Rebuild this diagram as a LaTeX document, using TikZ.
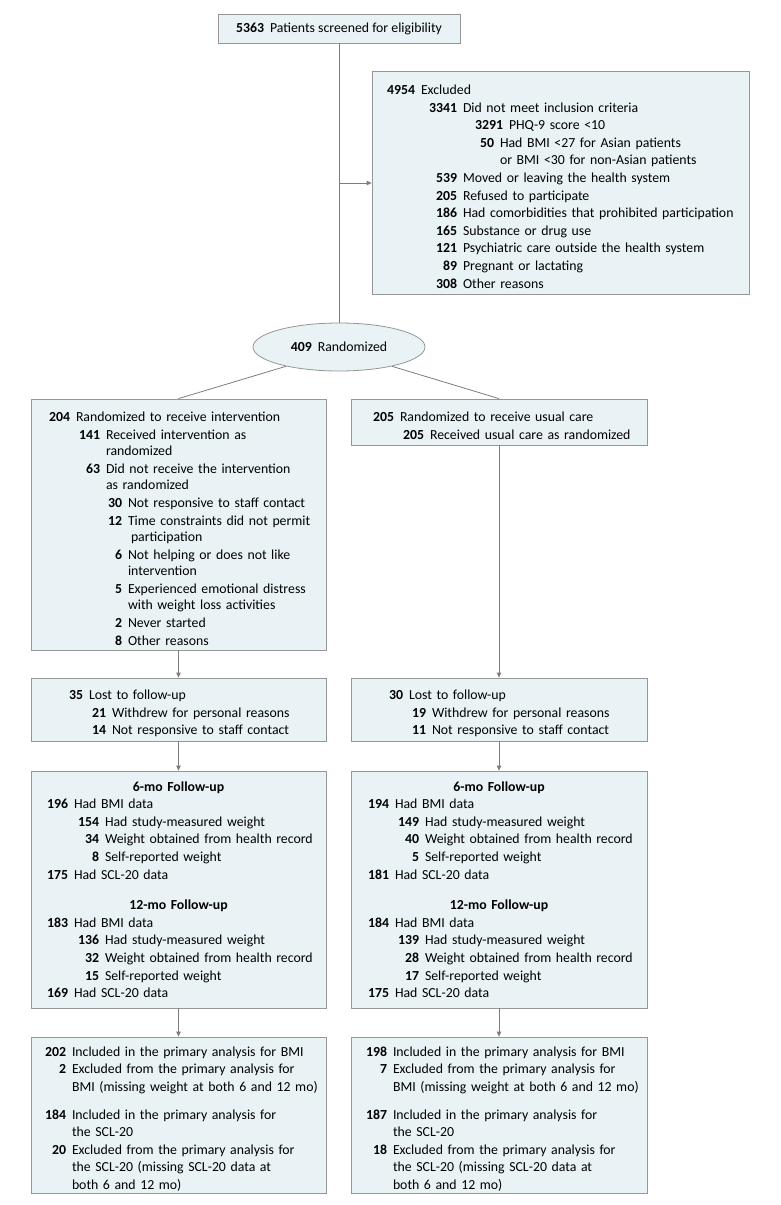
\documentclass[tikz,border=0pt]{standalone}
\usepackage{fontspec}
\setmainfont{Carlito}
\usetikzlibrary{shapes.geometric,arrows.meta}
\definecolor{boxfill}{RGB}{233,242,244}
\definecolor{boxline}{RGB}{150,150,150}
\definecolor{conline}{RGB}{125,125,125}
\setlength{\parskip}{0pt}
% one counted line: text starts at #1, number set flush right before it
\newcommand{\ent}[3]{\par\noindent\hangindent=#1\hangafter=1\hspace*{#1}\llap{\textbf{#2}\hspace{6pt}}#3\par}
\newcommand{\hd}[1]{{\centering\textbf{#1}\par}}
\begin{document}
\begin{tikzpicture}[x=1pt,y=-1pt,
  bx/.style={draw=boxline, fill=boxfill, line width=0.8pt, inner sep=0pt, align=left, font=\fontsize{13.8}{17.6}\selectfont},
  conn/.style={draw=conline, line width=0.8pt},
  arr/.style={conn, -{Triangle[length=5pt,width=4.5pt]}}]
\fill[white] (0,0) rectangle (780,1205);
\useasboundingbox (0,0) rectangle (780,1205);
\node[bx, align=center, minimum width=242pt, minimum height=29pt] (box0) at (339,28.5){\textbf{5363}\hspace{6pt}Patients screened for eligibility};
\node[bx, text width=377pt, minimum height=223pt] (box1) at (560.5,182.5){%
\ent{49pt}{4954}{Excluded}
\ent{91pt}{3341}{Did not meet inclusion criteria}
\ent{137pt}{3291}{PHQ-9 score <10}
\ent{128pt}{50}{Had BMI <27 for Asian patients\newline or BMI <30 for non-Asian patients}
\ent{91pt}{539}{Moved or leaving the health system}
\ent{91pt}{205}{Refused to participate}
\ent{91pt}{186}{Had comorbidities that prohibited participation}
\ent{91pt}{165}{Substance or drug use}
\ent{91pt}{121}{Psychiatric care outside the health system}
\ent{91pt}{89}{Pregnant or lactating}
\ent{91pt}{308}{Other reasons}};
\node[bx, ellipse, align=center, minimum width=172pt, minimum height=48pt] (rnd) at (339,347){\textbf{409}\hspace{6pt}Randomized};
\node[bx, text width=295pt, minimum height=251pt, font=\fontsize{13.8}{16}\selectfont] (box2) at (178.5,524.5){\setlength{\parskip}{2pt}%
\ent{45pt}{204}{Randomized to receive intervention}
\ent{75pt}{141}{Received intervention as\newline randomized}
\ent{75pt}{63}{Did not receive the intervention\newline as randomized}
\ent{97pt}{30}{Not responsive to staff contact}
\ent{97pt}{12}{Time constraints did not permit\newline\hspace*{3pt}participation}
\ent{97pt}{6}{Not helping or does not like\newline intervention}
\ent{97pt}{5}{Experienced emotional distress\newline with weight loss activities}
\ent{97pt}{2}{Never started}
\ent{97pt}{8}{Other reasons}};
\node[bx, text width=296pt, minimum height=46pt] (box3) at (499,422){%
\ent{49pt}{205}{Randomized to receive usual care}
\ent{79pt}{205}{Received usual care as randomized}};
\node[bx, text width=295pt, minimum height=63pt] (box4) at (178.5,709.5){%
\ent{58pt}{35}{Lost to follow-up}
\ent{81pt}{21}{Withdrew for personal reasons}
\ent{81pt}{14}{Not responsive to staff contact}};
\node[bx, text width=296pt, minimum height=63pt] (box5) at (499,709.5){%
\ent{58pt}{30}{Lost to follow-up}
\ent{81pt}{19}{Withdrew for personal reasons}
\ent{81pt}{11}{Not responsive to staff contact}};
\node[bx, text width=295pt, minimum height=237pt] (box6) at (178.5,889.5){%
\hd{6-mo Follow-up}
\ent{43pt}{196}{Had BMI data}
\ent{74pt}{154}{Had study-measured weight}
\ent{74pt}{34}{Weight obtained from health record}
\ent{74pt}{8}{Self-reported weight}
\ent{43pt}{175}{Had SCL-20 data}
\vspace{13pt}
\hd{12-mo Follow-up}
\ent{43pt}{183}{Had BMI data}
\ent{74pt}{136}{Had study-measured weight}
\ent{74pt}{32}{Weight obtained from health record}
\ent{74pt}{15}{Self-reported weight}
\ent{43pt}{169}{Had SCL-20 data}};
\node[bx, text width=296pt, minimum height=237pt] (box7) at (499,889.5){%
\hd{6-mo Follow-up}
\ent{44pt}{194}{Had BMI data}
\ent{74pt}{149}{Had study-measured weight}
\ent{74pt}{40}{Weight obtained from health record}
\ent{74pt}{5}{Self-reported weight}
\ent{44pt}{181}{Had SCL-20 data}
\vspace{13pt}
\hd{12-mo Follow-up}
\ent{44pt}{184}{Had BMI data}
\ent{74pt}{139}{Had study-measured weight}
\ent{74pt}{28}{Weight obtained from health record}
\ent{74pt}{17}{Self-reported weight}
\ent{44pt}{175}{Had SCL-20 data}};
\node[bx, text width=295pt, minimum height=156pt] (box8) at (178.5,1115){%
\ent{41pt}{202}{Included in the primary analysis for BMI}
\ent{41pt}{2}{Excluded from the primary analysis for\newline BMI (missing weight at both 6 and 12 mo)}
\vspace{10pt}
\ent{41pt}{184}{Included in the primary analysis for\newline the SCL-20}
\ent{41pt}{20}{Excluded from the primary analysis for\newline the SCL-20 (missing SCL-20 data at\newline both 6 and 12 mo)}};
\node[bx, text width=296pt, minimum height=156pt] (box9) at (499,1115){%
\ent{42pt}{198}{Included in the primary analysis for BMI}
\ent{42pt}{7}{Excluded from the primary analysis for\newline BMI (missing weight at both 6 and 12 mo)}
\vspace{10pt}
\ent{42pt}{187}{Included in the primary analysis for\newline the SCL-20}
\ent{42pt}{18}{Excluded from the primary analysis for\newline the SCL-20 (missing SCL-20 data at\newline both 6 and 12 mo)}};
\coordinate (br) at (339,183);
\draw[conn](box0) -- (rnd);
\draw[arr](br) -- (br -| box1.west);
\draw[conn](rnd.200) -- (box2.north);
\draw[conn](rnd.340) -- (box3.north);
\draw[arr](box2) -- (box4);
\draw[arr](box3) -- (box5);
\draw[arr](box4) -- (box6);
\draw[arr](box5) -- (box7);
\draw[arr](box6) -- (box8);
\draw[arr](box7) -- (box9);
\end{tikzpicture}
\end{document}
